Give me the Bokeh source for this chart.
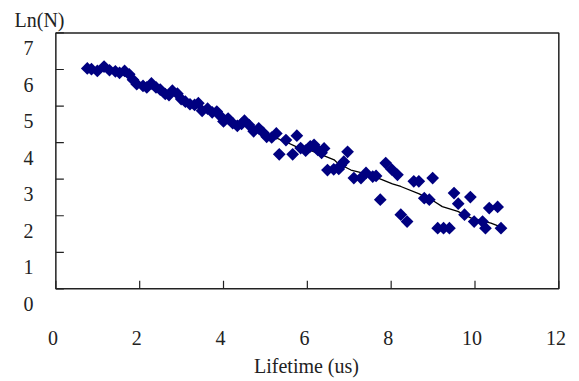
import math
from bokeh.plotting import figure
from bokeh.models import Range1d, FixedTicker
from bokeh.embed import file_html
from bokeh.resources import INLINE

# ---- data ----
lifetime = [0.75, 0.85, 0.99, 1.15, 1.28, 1.42, 1.52, 1.64, 1.75, 1.84,
            1.93, 2.08, 2.17, 2.28, 2.39, 2.49, 2.61, 2.70, 2.78, 2.90,
            2.99, 3.09, 3.20, 3.31, 3.40, 3.49, 3.62, 3.73, 3.84, 3.93,
            4.00, 4.11, 4.22, 4.33, 4.43, 4.50, 4.61, 4.72, 4.84, 4.95,
            5.03, 5.15, 5.26, 5.33, 5.49, 5.65, 5.75, 5.84, 5.96, 6.07,
            6.16, 6.25, 6.34, 6.40, 6.48, 6.63, 6.75, 6.80, 6.87, 6.96,
            7.11, 7.28, 7.40, 7.56, 7.64, 7.74, 7.87, 8.01, 8.15, 8.23,
            8.38, 8.54, 8.66, 8.79, 8.91, 8.99, 9.11, 9.25, 9.39, 9.50,
            9.60, 9.75, 9.89, 9.98, 10.18, 10.25, 10.34, 10.54, 10.62]
ln_n = [6.03, 6.01, 5.96, 6.08, 5.98, 5.95, 5.91, 5.96, 5.87, 5.72,
        5.60, 5.55, 5.51, 5.62, 5.51, 5.45, 5.33, 5.30, 5.42, 5.34,
        5.19, 5.12, 5.05, 5.03, 5.08, 4.87, 4.93, 4.83, 4.85, 4.72,
        4.58, 4.66, 4.53, 4.46, 4.51, 4.60, 4.48, 4.31, 4.39, 4.27,
        4.16, 4.14, 4.25, 3.68, 4.07, 3.68, 4.19, 3.85, 3.78, 3.90,
        3.94, 3.80, 3.72, 3.84, 3.25, 3.27, 3.28, 3.38, 3.48, 3.75,
        3.03, 3.03, 3.17, 3.07, 3.09, 2.44, 3.44, 3.27, 3.12, 2.03,
        1.84, 2.94, 2.94, 2.48, 2.44, 3.03, 1.66, 1.66, 1.66, 2.62,
        2.33, 2.03, 2.51, 1.84, 1.84, 1.66, 2.21, 2.24, 1.66]

trend_x = [0.9, 1.5, 2.0, 2.5, 3.0, 3.5, 4.0, 4.5, 5.0, 5.47, 5.73, 6.0,
           6.36, 6.64, 6.72, 7.04, 7.5, 7.75, 8.03, 8.23, 8.67, 9.03,
           9.22, 9.59, 9.9, 10.38, 10.55]
trend_y = [6.0, 5.93, 5.62, 5.45, 5.2, 4.95, 4.65, 4.5, 4.25, 4.03, 3.89, 3.82,
           3.66, 3.53, 3.44, 3.25, 3.12, 3.0, 2.87, 2.8, 2.6, 2.39,
           2.25, 2.12, 1.94, 1.8, 1.72]

x_ticks = [0, 2, 4, 6, 8, 10, 12]
y_ticks = [0, 1, 2, 3, 4, 5, 6, 7]
x_title = "Lifetime (us)"
y_title = "Ln(N)"

FONT = "Liberation Serif"
TXT = "#222222"
NAVY = "#000080"

# tick labels in the reference are offset from their tick marks
Y_LABEL_SHIFT = 0.41   # ~15 px down
X_LABEL_SHIFT = 0.07   # ~3 px left
X_LO, X_HI = -0.08, 12.04
Y_LO, Y_HI = -0.62, 7.04

p = figure(width=575, height=379,
           x_range=Range1d(X_LO, X_HI), y_range=Range1d(Y_LO, Y_HI),
           output_backend="svg", toolbar_location=None,
           min_border_left=52, min_border_right=15,
           min_border_top=31, min_border_bottom=67,
           title=y_title)
p.extra_y_ranges = {"lab": Range1d(Y_LO + Y_LABEL_SHIFT, Y_HI + Y_LABEL_SHIFT)}
p.extra_x_ranges = {"lab": Range1d(X_LO + X_LABEL_SHIFT, X_HI + X_LABEL_SHIFT)}
p.xgrid.visible = False
p.ygrid.visible = False
p.outline_line_color = None
p.background_fill_color = "white"
p.border_fill_color = "white"

p.title.text_font = FONT
p.title.text_font_size = "20px"
p.title.text_font_style = "normal"
p.title.text_color = TXT
p.title.align = "left"
p.title.offset = -38
p.title.standoff = 2

# trend line, then points
p.line(trend_x, trend_y, line_color="black", line_width=1.3)
p.scatter(lifetime, ln_n, marker="square", angle=math.pi / 4, size=9,
          fill_color=NAVY, line_color=None)

# plot box spanning the axis limits
p.quad(left=[x_ticks[0]], right=[x_ticks[-1]], bottom=[y_ticks[0]], top=[y_ticks[-1]],
       fill_color=None, line_color=TXT, line_width=1.5)
# inward tick marks (8 px)
p.segment(x0=x_ticks, y0=[y_ticks[0]] * len(x_ticks), x1=x_ticks,
          y1=[y_ticks[0] + 8 / 36.66] * len(x_ticks), line_color=TXT, line_width=1.2)
p.segment(x0=[x_ticks[0]] * len(y_ticks), y0=y_ticks,
          x1=[x_ticks[0] + 8 / 41.87] * len(y_ticks), y1=y_ticks,
          line_color=TXT, line_width=1.2)

xa = p.xaxis[0]
xa.x_range_name = "lab"
xa.ticker = FixedTicker(ticks=x_ticks)
xa.major_tick_in = 0
xa.major_tick_out = 0
xa.major_tick_line_color = None
xa.minor_tick_line_color = None
xa.axis_line_color = None
xa.major_label_standoff = 19
xa.major_label_text_font = FONT
xa.major_label_text_font_size = "20px"
xa.major_label_text_color = TXT
xa.axis_label = x_title
xa.axis_label_text_font = FONT
xa.axis_label_text_font_size = "20px"
xa.axis_label_text_font_style = "normal"
xa.axis_label_text_color = TXT
xa.axis_label_standoff = 7

ya = p.yaxis[0]
ya.y_range_name = "lab"
ya.ticker = FixedTicker(ticks=y_ticks)
ya.major_tick_in = 0
ya.major_tick_out = 0
ya.major_tick_line_color = None
ya.minor_tick_line_color = None
ya.axis_line_color = None
ya.major_label_standoff = 19
ya.major_label_text_font = FONT
ya.major_label_text_font_size = "20px"
ya.major_label_text_color = TXT

open("out.html", "w").write(file_html(p, INLINE))
